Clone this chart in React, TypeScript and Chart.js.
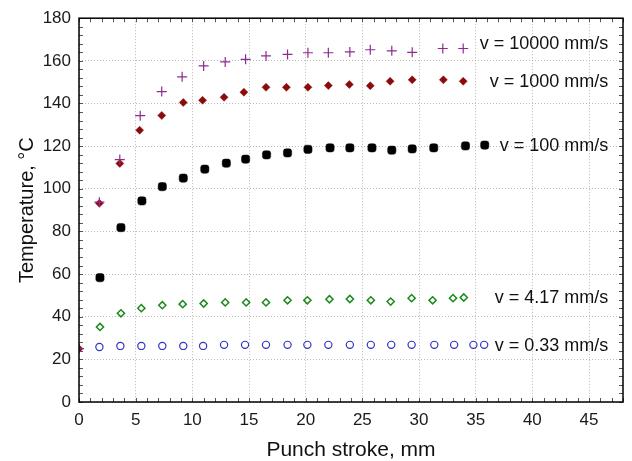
import React, { useEffect, useRef } from "react";
import { Chart, registerables } from "chart.js";

Chart.register(...registerables);

// ---- Data ----
const x10000 = [0, 1.8, 3.6, 5.4, 7.3, 9.1, 11.0, 12.9, 14.7, 16.5, 18.4, 20.2, 22.0, 23.9, 25.7, 27.6, 29.4, 32.1, 33.9];
const y10000 = [25, 93.7, 113.7, 134.3, 145.6, 152.5, 157.6, 159.5, 160.7, 162.3, 163.0, 163.8, 163.8, 164.2, 165.2, 164.7, 164.0, 165.8, 165.8];

const x1000 = [0, 1.8, 3.6, 5.35, 7.3, 9.2, 10.9, 12.8, 14.55, 16.5, 18.3, 20.2, 22.0, 23.85, 25.7, 27.45, 29.4, 32.15, 33.9];
const y1000 = [25, 93.2, 111.9, 127.5, 134.4, 140.5, 141.5, 142.9, 145.3, 147.6, 147.6, 147.6, 148.4, 148.9, 148.3, 150.4, 151.1, 151.1, 150.4];

const x100 = [1.85, 3.7, 5.55, 7.35, 9.2, 11.1, 13.0, 14.7, 16.55, 18.4, 20.2, 22.15, 23.9, 25.85, 27.6, 29.4, 31.3, 34.1, 35.8];
const y100 = [58.3, 81.8, 94.3, 101.0, 105.0, 109.2, 112.0, 113.9, 115.9, 116.8, 118.5, 119.2, 119.2, 119.2, 118.1, 118.7, 119.2, 120.1, 120.5];

const x417 = [1.85, 3.7, 5.5, 7.35, 9.15, 11.0, 12.9, 14.75, 16.5, 18.4, 20.15, 22.1, 23.9, 25.75, 27.5, 29.35, 31.2, 33.0, 33.95];
const y417 = [35.2, 41.6, 44.0, 45.4, 45.9, 46.2, 46.7, 46.7, 46.7, 47.7, 47.7, 48.2, 48.3, 47.7, 47.1, 48.7, 47.7, 48.7, 49.0];

const x033 = [1.8, 3.65, 5.5, 7.35, 9.2, 10.95, 12.8, 14.65, 16.5, 18.4, 20.15, 22.0, 23.9, 25.75, 27.55, 29.35, 31.35, 33.1, 34.8, 35.75];
const y033 = [25.8, 26.3, 26.3, 26.3, 26.3, 26.3, 26.8, 26.8, 26.8, 26.8, 26.8, 26.8, 26.8, 26.8, 26.8, 26.8, 26.8, 26.8, 26.8, 26.8];

const seriesLabels = ["v = 10000 mm/s", "v = 1000 mm/s", "v = 100 mm/s", "v = 4.17 mm/s", "v = 0.33 mm/s"];
const labelX = 46.7;
const labelY = [168, 150, 120, 48.9, 26.3];

const xTitle = "Punch stroke, mm";
const yTitle = "Temperature, °C";
const xMin = 0, xMax = 48, xStep = 5, xMinor = 1;
const yMin = 0, yMax = 180, yStep = 20, yMinor = 4;

const FONT = "'Liberation Sans', Arial, sans-serif";

const toPts = (xs: number[], ys: number[]) => xs.map((x, i) => ({ x, y: ys[i] }));

const framePlugin = {
  id: "frameAndText",
  afterDatasetsDraw(chart: any) {
    const { ctx, chartArea: a, scales } = chart;
    const xs = scales.x, ys = scales.y;
    ctx.save();
    // minor ticks inward
    ctx.strokeStyle = "#555";
    ctx.lineWidth = 1;
    ctx.beginPath();
    const tl = 4;
    for (let v = xMin; v <= xMax + 1e-9; v += xMinor) {
      const px = Math.round(xs.getPixelForValue(v)) + 0.5;
      ctx.moveTo(px, a.bottom); ctx.lineTo(px, a.bottom - tl);
      ctx.moveTo(px, a.top); ctx.lineTo(px, a.top + tl);
    }
    for (let v = yMin; v <= yMax + 1e-9; v += yMinor) {
      const py = Math.round(ys.getPixelForValue(v)) + 0.5;
      ctx.moveTo(a.left, py); ctx.lineTo(a.left + tl, py);
      ctx.moveTo(a.right, py); ctx.lineTo(a.right - tl, py);
    }
    ctx.stroke();
    // frame
    ctx.strokeStyle = "#000";
    ctx.lineWidth = 1.5;
    ctx.strokeRect(a.left, a.top, a.right - a.left, a.bottom - a.top);

    // annotations
    ctx.fillStyle = "#111";
    ctx.font = `18px ${FONT}`;
    ctx.textAlign = "right";
    ctx.textBaseline = "middle";
    seriesLabels.forEach((t, i) => {
      ctx.fillText(t, xs.getPixelForValue(labelX), ys.getPixelForValue(labelY[i]));
    });

    // axis titles
    ctx.font = `21px ${FONT}`;
    ctx.textAlign = "center";
    ctx.textBaseline = "middle";
    ctx.fillText(xTitle, (a.left + a.right) / 2, 450);
    ctx.save();
    ctx.translate(27, (a.top + a.bottom) / 2);
    ctx.rotate(-Math.PI / 2);
    ctx.font = `20px ${FONT}`;
    ctx.fillText(yTitle, 0, 0);
    ctx.restore();
    ctx.restore();
  },
};

export default function App() {
  const ref = useRef<HTMLCanvasElement | null>(null);
  useEffect(() => {
    if (!ref.current) return;
    const chart = new Chart(ref.current, {
      type: "scatter",
      data: {
        datasets: [
          {
            label: seriesLabels[0],
            data: toPts(x10000, y10000),
            pointStyle: "cross",
            pointRadius: 5,
            borderColor: "#8e2a8e",
            backgroundColor: "#8e2a8e",
            pointBorderWidth: 1.2,
            clip: 0,
          },
          {
            label: seriesLabels[1],
            data: toPts(x1000, y1000),
            pointStyle: "rectRot",
            pointRadius: 4,
            borderColor: "#8b0a0a",
            backgroundColor: "#8b0a0a",
            pointBorderWidth: 0.5,
            clip: 0,
          },
          {
            label: seriesLabels[2],
            data: toPts(x100, y100),
            pointStyle: "rectRounded",
            pointRadius: 4.8,
            borderColor: "#000",
            backgroundColor: "#000",
            pointBorderWidth: 0.5,
          },
          {
            label: seriesLabels[3],
            data: toPts(x417, y417),
            pointStyle: "rectRot",
            pointRadius: 3.6,
            borderColor: "#1b8a1b",
            backgroundColor: "rgba(0,0,0,0)",
            pointBorderWidth: 1.5,
          },
          {
            label: seriesLabels[4],
            data: toPts(x033, y033),
            pointStyle: "circle",
            pointRadius: 3.6,
            borderColor: "#3333c4",
            backgroundColor: "rgba(0,0,0,0)",
            pointBorderWidth: 1.2,
          },
        ],
      },
      options: {
        responsive: false,
        animation: false,
        layout: { padding: { top: 17, right: 9, left: 0, bottom: 0 } },
        plugins: { legend: { display: false }, tooltip: { enabled: false } },
        scales: {
          x: {
            type: "linear",
            min: xMin,
            max: xMax,
            afterFit: (s: any) => { s.height = 59; },
            ticks: {
              stepSize: xStep,
              includeBounds: false,
              padding: 8,
              color: "#1a1a1a",
              font: { family: FONT, size: 17 },
              maxRotation: 0,
              autoSkip: false,
            },
            grid: { color: "#b8b8b8", lineWidth: 1, drawTicks: false },
            border: { display: false, dash: [1, 2] },
          },
          y: {
            type: "linear",
            min: yMin,
            max: yMax,
            afterFit: (s: any) => { s.width = 79; },
            ticks: {
              stepSize: yStep,
              padding: 8,
              color: "#1a1a1a",
              font: { family: FONT, size: 17 },
            },
            grid: { color: "#b8b8b8", lineWidth: 1, drawTicks: false },
            border: { display: false, dash: [1, 2] },
          },
        },
      },
      plugins: [framePlugin],
    } as any);
    return () => chart.destroy();
  }, []);
  return (
    <div style={{ position: "fixed", left: 0, top: 0, width: 632, height: 461, background: "#fff" }}>
      <canvas ref={ref} width={632} height={461} style={{ display: "block" }} />
    </div>
  );
}
